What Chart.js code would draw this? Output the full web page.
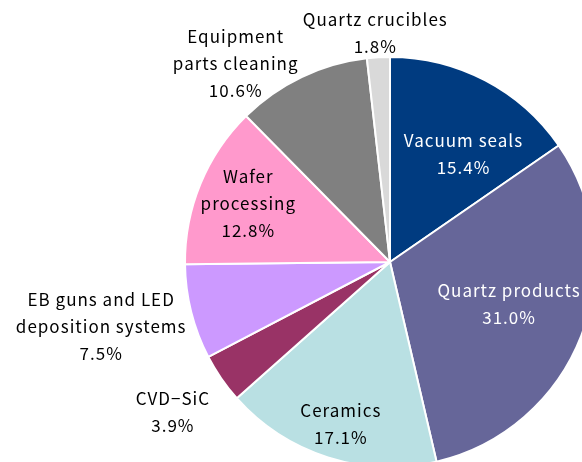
<!DOCTYPE html>
<html>
<head>
<meta charset="utf-8">
<script src="https://cdn.jsdelivr.net/npm/chart.js@4"></script>
<style>
  html, body { margin: 0; padding: 0; background: #fff; overflow: hidden; width: 582px; height: 462px; }
  #wrap { position: absolute; left: 0; top: 0; }
</style>
</head>
<body>
<div id="wrap"><canvas id="pieChart" width="780" height="524"></canvas></div>
<script>
// Segment breakdown (%), clockwise from 12 o'clock
const categories = [
    ['Vacuum seals'],
    ['Quartz products'],
    ['Ceramics'],
    ['CVD\u2212SiC'],
    ['EB guns and LED', 'deposition systems'],
    ['Wafer', 'processing'],
    ['Equipment', 'parts cleaning'],
    ['Quartz crucibles']
];
const shares = [15.4, 31.0, 17.1, 3.9, 7.5, 12.8, 10.6, 1.8];

const sliceColors = ['#003B80', '#666699', '#B9E0E3', '#993366', '#CC99FF', '#FF99CC', '#808080', '#D9D9D9'];
const textColors = ['#fff', '#fff', '#000', '#000', '#000', '#000', '#000', '#000'];
// label placement: radius factor along slice mid-angle, then small nudge
const labelPlace = [
    [0.64, 12, 8],
    [0.62, 0, -4],
    [0.80, 0, 6],
    [1.29, 0, 0],
    [1.43, -5, -7],
    [0.75, 0, 0],
    [1.22, -47, 27],
    [1.14, -2, 4]
];

const sliceLabels = {
    id: 'sliceLabels',
    afterDatasetsDraw(chart) {
        const ctx = chart.ctx;
        const meta = chart.getDatasetMeta(0);
        ctx.save();
        ctx.font = '17px "Noto Sans CJK JP", "Noto Sans", sans-serif';
        ctx.letterSpacing = '1px';
        ctx.textAlign = 'center';
        ctx.textBaseline = 'middle';
        meta.data.forEach((arc, i) => {
            const p = arc.getProps(['x', 'y', 'startAngle', 'endAngle', 'outerRadius'], true);
            const mid = (p.startAngle + p.endAngle) / 2;
            const [f, dx, dy] = labelPlace[i];
            const cx = p.x + Math.cos(mid) * p.outerRadius * f + dx + 0.5;
            const cy = p.y + Math.sin(mid) * p.outerRadius * f + dy;
            const lines = categories[i].concat([shares[i].toFixed(1) + '%']);
            const lh = 27;
            const top = cy - (lines.length - 1) * lh / 2;
            ctx.fillStyle = textColors[i];
            lines.forEach((t, k) => ctx.fillText(t, cx, top + k * lh));
        });
        ctx.restore();
    }
};

const ctx = document.getElementById('pieChart').getContext('2d');
const pieChart = new Chart(ctx, {
    type: 'pie',
    data: {
        labels: categories.map(c => c.join(' ')),
        datasets: [{
            data: shares,
            backgroundColor: sliceColors,
            borderColor: '#fff',
            borderWidth: 2
        }]
    },
    options: {
        responsive: false,
        animation: false,
        layout: { padding: { left: 184, right: 184, top: 56, bottom: 56 } },
        plugins: {
            legend: { display: false },
            tooltip: { enabled: false }
        }
    },
    plugins: [sliceLabels]
});
</script>
</body>
</html>
